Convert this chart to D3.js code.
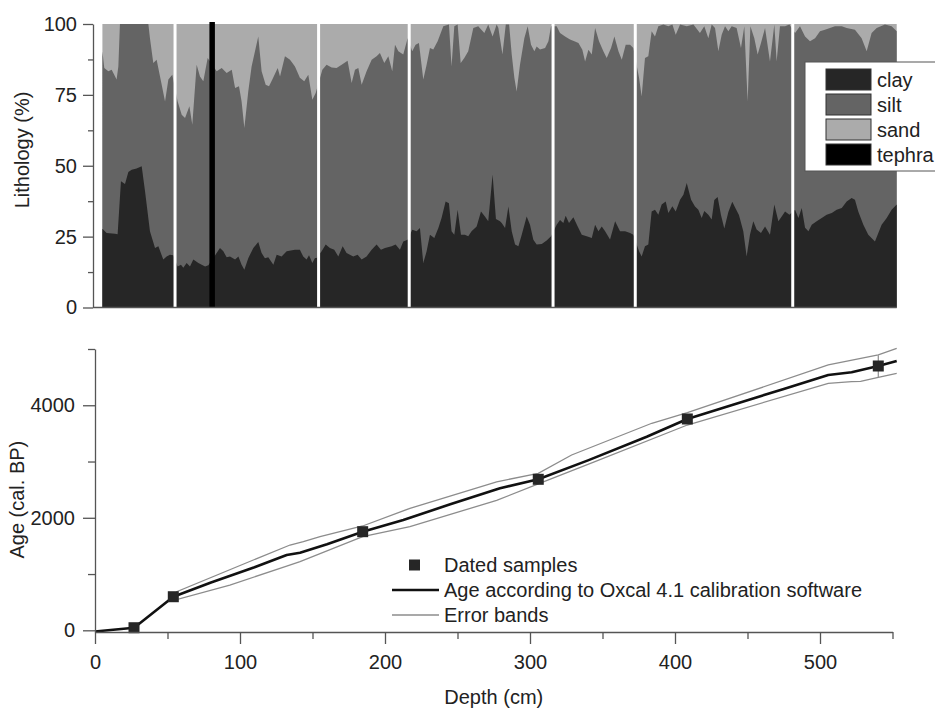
<!DOCTYPE html>
<html>
<head>
<meta charset="utf-8">
<script src="https://cdnjs.cloudflare.com/ajax/libs/d3/7.8.5/d3.min.js"></script>
<style>
  body { margin: 0; background: #fff; }
  svg text { font-family: "Liberation Sans", Arial, sans-serif; fill: #222; }
</style>
</head>
<body>
<div id="chart"></div>
<script>
// ---- lithology (top panel) ----
const clayDepth = [5.1, 8.0, 13.8, 15.6, 17.9, 20.7, 23.0, 25.3, 28.7, 32.2, 34.5, 37.9, 41.4, 43.7, 47.1, 49.4, 51.7, 54.0,
  57.0, 59.3, 60.9, 63.2, 65.5, 67.8, 71.3, 75.9, 78.2, 83.9, 86.2, 88.5, 90.8, 93.1, 96.6, 98.9, 101.1, 103.0, 105.7,
  109.2, 112.6, 114.9, 117.2, 119.5, 123.0, 125.3, 128.7, 132.2, 137.9, 141.3, 143.6, 145.9, 147.6, 149.9, 151.7, 152.8,
  156.3, 159.1, 162.0, 165.0, 167.8, 170.8, 173.5, 175.8, 178.1, 181.1, 183.9, 187.3, 190.8, 194.2, 197.2, 200.0, 204.6,
  207.3, 210.3, 212.6, 215.6, 218.8, 221.8, 224.1, 226.4, 228.7, 231.0, 234.0, 236.8, 239.0, 241.8, 244.1, 245.9, 247.8,
  250.1, 252.4, 255.1, 257.4, 259.7, 263.2, 266.2, 268.9, 271.2, 274.2, 276.5, 279.3, 280.5, 282.8, 285.1, 287.4, 289.7,
  292.0, 294.3, 297.7, 300.0, 302.3, 304.6, 308.1, 311.5, 314.5, 318.4, 320.7, 323.0, 324.6, 326.9, 329.9, 332.9, 335.7,
  339.1, 342.6, 344.9, 347.2, 349.5, 351.8, 355.2, 358.7, 362.1, 365.6, 369.0, 371.3, 375.2, 377.0, 379.3, 381.6, 383.9,
  386.2, 388.5, 390.8, 393.6, 395.4, 398.2, 400.5, 403.5, 405.8, 408.1, 411.1, 413.8, 416.1, 418.4, 420.2, 423.0, 425.3,
  427.1, 429.4, 431.7, 434.0, 436.8, 439.5, 441.8, 444.1, 447.1, 449.4, 451.7, 454.0, 456.3, 459.3, 462.1, 465.5, 468.5,
  471.3, 473.6, 475.9, 478.9, 482.8, 485.1, 487.4, 489.7, 492.0, 494.3, 497.7, 501.2, 504.6, 508.1, 511.5, 515.0, 518.4,
  521.8, 524.1, 526.4, 529.9, 533.3, 537.9, 542.5, 546.0, 549.4, 552.9];
const clayPct = [27.8, 26.3, 26.0, 25.8, 44.5, 43.6, 47.8, 48.6, 49.0, 49.8, 41.0, 26.9, 21.0, 21.6, 16.9, 18.0, 18.6, 18.4,
  14.5, 15.1, 14.0, 15.7, 14.5, 16.9, 15.7, 14.5, 14.9, 19.2, 21.0, 19.8, 17.7, 18.0, 16.9, 18.0, 15.1, 13.3, 17.4,
  21.0, 23.1, 19.2, 17.4, 17.7, 15.1, 18.6, 18.0, 19.8, 20.4, 20.4, 18.0, 16.9, 18.4, 15.7, 17.5, 17.5,
  19.8, 22.2, 21.0, 20.4, 18.0, 21.6, 19.2, 18.6, 18.0, 18.6, 16.9, 18.0, 20.4, 22.2, 20.4, 21.0, 21.6,
  22.2, 20.4, 23.3, 23.9, 27.4, 26.9, 28.0, 15.7, 19.8, 25.7, 24.5, 28.0, 31.6, 37.4, 36.8, 26.9, 25.7,
  34.5, 25.7, 25.7, 25.1, 26.9, 28.6, 33.9, 32.1, 30.4, 46.9, 31.2, 30.4, 29.8, 28.0, 35.6, 26.9, 22.2,
  21.6, 25.7, 32.1, 29.2, 23.9, 22.2, 22.4, 23.6, 25.1, 29.2, 30.9, 29.8, 32.4, 29.8, 31.8, 28.6, 25.7,
  25.1, 24.5, 29.2, 26.9, 28.6, 26.9, 24.0, 30.4, 26.9, 26.9, 26.3, 25.7, 19.8, 18.0, 21.6, 22.2, 33.9,
  34.5, 32.7, 36.3, 37.4, 33.3, 35.7, 33.9, 38.0, 39.8, 43.9, 38.0, 35.6, 34.5, 31.6, 34.0, 32.7, 31.0,
  37.9, 39.0, 32.6, 27.9, 33.7, 37.3, 34.9, 32.6, 26.9, 18.0, 25.7, 30.4, 27.5, 26.3, 28.6, 25.7, 36.3,
  30.4, 32.1, 33.9, 32.7, 34.5, 31.6, 35.1, 28.1, 26.9, 29.2, 30.4, 31.6, 32.7, 33.3, 34.5, 35.1, 37.4,
  38.6, 38.0, 33.9, 29.2, 25.7, 23.3, 29.2, 31.6, 34.5, 36.3];

// clay + silt (cumulative %), the rest up to 100 is sand
const siltTopDepth = [5.1, 6.4, 9.2, 11.5, 14.9, 16.1, 17.2, 36.8, 37.9, 40.2, 42.5, 46.0, 48.3, 50.6, 53.3,
  57.0, 59.8, 62.1, 65.1, 67.1, 70.1, 72.4, 74.7, 77.7, 83.9, 87.4, 90.8, 94.3, 96.6, 99.3, 101.1, 103.0, 105.7,
  108.0, 112.6, 114.9, 117.7, 120.0, 122.3, 126.0, 127.6, 131.0, 134.5, 137.9, 141.3, 144.3, 147.1, 149.9, 152.2,
  156.8, 159.7, 163.2, 166.6, 170.1, 174.2, 177.0, 179.3, 181.6, 183.9, 187.3, 190.8, 194.2, 196.5, 199.5, 202.3,
  205.0, 206.9, 209.2, 212.6, 215.6, 218.8, 221.1, 223.4, 226.4, 228.7, 231.0, 233.3, 236.3, 240.2, 244.1, 245.9,
  247.8, 250.1, 252.2, 254.7, 257.4, 260.9, 264.3, 268.5, 271.2, 274.2, 277.0, 278.2, 281.0, 283.3, 285.6, 287.4,
  289.2, 290.8, 293.1, 296.1, 298.4, 300.7, 303.0, 304.6, 306.9, 310.4, 312.7, 314.5, 318.4, 320.7, 324.2, 327.6,
  330.6, 333.4, 336.1, 338.0, 340.3, 342.6, 344.9, 347.6, 350.6, 352.9, 355.9, 358.2, 361.0, 363.3, 366.0, 369.0,
  371.3, 375.2, 377.0, 379.3, 381.6, 383.9, 386.2, 388.5, 392.0, 395.4, 398.2, 400.5, 403.5, 408.1, 412.7, 417.2,
  420.2, 423.0, 425.3, 427.6, 429.9, 432.2, 434.5, 436.8, 439.1, 442.5, 445.5, 447.8, 450.1, 452.0, 454.7, 457.0,
  459.3, 462.1, 465.5, 468.5, 470.1, 472.4, 475.9, 478.9, 482.8, 486.2, 489.7, 493.1, 496.6, 500.0, 503.4, 510.3,
  515.0, 518.4, 524.1, 528.7, 532.2, 535.6, 539.1, 544.8, 549.4, 552.9];
const siltTopPct = [90.4, 84.5, 83.3, 83.9, 80.4, 85.0, 100, 100, 95.0, 86.2, 87.4, 78.6, 72.7, 80.4, 82.1,
  72.7, 68.0, 66.8, 71.0, 64.5, 85.6, 81.5, 79.8, 88.0, 83.3, 84.5, 82.7, 83.9, 77.4, 78.0, 72.7, 63.3, 76.2,
  85.0, 95.6, 83.3, 78.6, 78.0, 80.4, 84.5, 81.5, 88.6, 87.4, 85.0, 81.0, 79.8, 82.1, 73.3, 75.7,
  83.9, 85.6, 84.7, 84.5, 85.6, 87.0, 79.2, 83.9, 84.5, 78.6, 83.3, 87.4, 88.6, 89.8, 86.2, 88.6,
  83.3, 92.7, 90.4, 89.2, 95.0, 90.4, 92.7, 93.3, 80.4, 85.6, 91.5, 91.0, 93.9, 99.2, 99.8, 85.0,
  99.2, 99.8, 86.2, 88.0, 90.4, 98.6, 99.2, 96.8, 99.8, 95.6, 99.8, 98.6, 89.2, 99.8, 99.8, 89.2,
  81.0, 76.2, 85.6, 95.0, 99.2, 92.7, 90.4, 92.1, 91.0, 91.5, 93.9, 99.2, 99.2, 96.8, 95.6, 94.5,
  93.9, 93.3, 90.9, 86.8, 90.9, 89.2, 98.6, 93.9, 90.4, 88.0, 91.5, 95.6, 90.4, 87.4, 92.7, 92.7,
  91.5, 81.0, 74.4, 88.0, 88.6, 97.4, 95.6, 99.2, 99.8, 99.2, 99.8, 96.2, 99.8, 99.2, 99.8, 96.8,
  99.2, 95.0, 99.8, 98.6, 90.4, 96.2, 99.2, 97.4, 99.2, 98.6, 91.5, 99.2, 72.7, 99.2, 95.0, 89.2,
  93.3, 98.6, 86.8, 99.8, 86.8, 99.2, 99.2, 99.8, 96.8, 99.2, 95.6, 93.9, 95.0, 97.4, 98.0, 99.2,
  99.2, 98.6, 98.0, 95.0, 90.4, 96.8, 98.6, 99.8, 99.2, 97.4];

const sectionBreaks = [55.2, 154.2, 216.7, 315.9, 372.6, 481.2];
const tephraDepth = [80.8];

const lithoTicks = [0, 25, 50, 75, 100];
const lithoMinor = [12.5, 37.5, 62.5, 87.5];
const lithoLegend = ["clay", "silt", "sand", "tephra"];

// ---- age-depth model (bottom panel) ----
const ageDepth = [0, 27, 54, 80, 110, 132.2, 141.4, 160, 184.6, 212.6, 245, 279.3, 305.7, 340, 380.5, 408.5,
  440, 475, 505.7, 521.8, 540.2, 552.9];
const ageModel = [-20, 46, 597, 850, 1120, 1339, 1380, 1530, 1753, 1961, 2240, 2524, 2684, 3020, 3441, 3756,
  4010, 4290, 4538, 4586, 4698, 4787];
const upperDepth = [54, 56.3, 109.2, 134.5, 143.7, 155.2, 184.6, 217.2, 277, 305.7, 328.7, 384, 408.5, 505.7, 540.2, 552.9];
const upperAge = [600, 687, 1250, 1516, 1575, 1664, 1854, 2169, 2640, 2791, 3116, 3680, 3868, 4716, 4894, 5012];
const lowerDepth = [54, 56.3, 93, 132.2, 141.4, 184.6, 217.2, 277, 305.7, 344.8, 408.5, 505.7, 521.8, 528, 540.2, 552.9];
const lowerAge = [597, 545, 805, 1140, 1220, 1664, 1842, 2310, 2601, 2997, 3649, 4390, 4419, 4425, 4497, 4568];

const sampleDepth = [26.9, 54.0, 184.6, 305.7, 408.5, 540.2];
const sampleAge = [46, 597, 1753, 2684, 3756, 4698];
const sampleLow = [20, 560, 1700, 2630, 3700, 4500];
const sampleHigh = [70, 640, 1800, 2740, 3810, 4890];

const depthTicks = [0, 100, 200, 300, 400, 500];
const depthMinor = [50, 150, 250, 350, 450, 550];
const ageTicks = [0, 2000, 4000];
const ageMinor = [1000, 3000, 5000];
const ageLegend = ["Dated samples", "Age according to Oxcal 4.1 calibration software", "Error bands"];

// ---- setup ----
const w = 935;
const h = 709;
const colors = { clay: "#262626", silt: "#646464", sand: "#ababab", tephra: "#000000" };
const axisColor = "#555";

const svg = d3.select("#chart").append("svg").attr("width", w).attr("height", h);

const x = d3.scaleLinear().domain([0, 550]).range([95, 892.5]);
const yLith = d3.scaleLinear().domain([0, 100]).range([307.5, 24]);
const yAge = d3.scaleLinear().domain([-30, 5000]).range([632, 349]);

function styleAxis(g) {
  g.attr("font-size", 20).attr("font-family", "Liberation Sans, Arial, sans-serif");
  g.selectAll("path, line").attr("stroke", axisColor).attr("stroke-width", 1.3);
  g.selectAll("text").attr("fill", "#222");
}

// ---- top panel ----
const lith = svg.append("g");
const dMin = d3.min(clayDepth), dMax = d3.max(clayDepth);

// sand fills everything above clay + silt
lith.append("rect")
  .attr("x", x(dMin))
  .attr("width", x(dMax) - x(dMin))
  .attr("y", yLith(100))
  .attr("height", yLith(0) - yLith(100))
  .attr("fill", colors.sand);

const area = d3.area().x(d => x(d[0])).y0(yLith(0)).y1(d => yLith(d[1]));

lith.append("path")
  .datum(d3.zip(siltTopDepth, siltTopPct))
  .attr("d", area)
  .attr("fill", colors.silt);

lith.append("path")
  .datum(d3.zip(clayDepth, clayPct))
  .attr("d", area)
  .attr("fill", colors.clay);

// core section breaks
lith.selectAll("line.break")
  .data(sectionBreaks)
  .join("line")
  .attr("class", "break")
  .attr("x1", d => x(d)).attr("x2", d => x(d))
  .attr("y1", yLith(0)).attr("y2", yLith(100))
  .attr("stroke", "#fff")
  .attr("stroke-width", 3);

lith.selectAll("line.tephra")
  .data(tephraDepth)
  .join("line")
  .attr("class", "tephra")
  .attr("x1", d => x(d)).attr("x2", d => x(d))
  .attr("y1", yLith(0)).attr("y2", yLith(100) - 2)
  .attr("stroke", colors.tephra)
  .attr("stroke-width", 5.5);

// axes
svg.append("g")
  .attr("transform", "translate(93,0)")
  .call(d3.axisLeft(yLith).tickValues(lithoTicks).tickSize(10).tickPadding(6).tickSizeOuter(0))
  .call(styleAxis);
svg.append("g")
  .attr("transform", "translate(93,0)")
  .call(d3.axisLeft(yLith).tickValues(lithoMinor).tickSize(5).tickFormat("").tickSizeOuter(0))
  .call(styleAxis)
  .call(g => g.select(".domain").remove());

svg.append("line")
  .attr("x1", 93).attr("x2", x(dMax))
  .attr("y1", yLith(0)).attr("y2", yLith(0))
  .attr("stroke", axisColor).attr("stroke-width", 1.3);

svg.append("text")
  .attr("transform", "translate(29,150) rotate(-90)")
  .attr("text-anchor", "middle")
  .attr("font-size", 20)
  .text("Lithology (%)");

// lithology legend
const lithLeg = svg.append("g").attr("transform", "translate(805,62)");
lithLeg.append("rect")
  .attr("width", 140).attr("height", 109)
  .attr("fill", "#fff").attr("stroke", axisColor).attr("stroke-width", 1);
const lItems = lithLeg.selectAll("g.item")
  .data(lithoLegend)
  .join("g")
  .attr("class", "item")
  .attr("transform", (d, i) => `translate(21,${7 + i * 25})`);
lItems.append("rect")
  .attr("width", 45).attr("height", 21)
  .attr("fill", d => colors[d])
  .attr("stroke", "#333").attr("stroke-width", 1);
lItems.append("text")
  .attr("x", 51).attr("y", 17.5)
  .attr("font-size", 20)
  .text(d => d);

// ---- bottom panel ----
const ageLine = d3.line().x(d => x(d[0])).y(d => yAge(d[1]));

svg.append("path")
  .datum(d3.zip(upperDepth, upperAge))
  .attr("d", ageLine)
  .attr("fill", "none").attr("stroke", "#8c8c8c").attr("stroke-width", 1.3);
svg.append("path")
  .datum(d3.zip(lowerDepth, lowerAge))
  .attr("d", ageLine)
  .attr("fill", "none").attr("stroke", "#8c8c8c").attr("stroke-width", 1.3);

svg.selectAll("line.err")
  .data(d3.zip(sampleDepth, sampleLow, sampleHigh))
  .join("line")
  .attr("class", "err")
  .attr("x1", d => x(d[0])).attr("x2", d => x(d[0]))
  .attr("y1", d => yAge(d[1])).attr("y2", d => yAge(d[2]))
  .attr("stroke", "#8c8c8c").attr("stroke-width", 1.2);

svg.append("path")
  .datum(d3.zip(ageDepth, ageModel))
  .attr("d", ageLine)
  .attr("fill", "none").attr("stroke", "#111").attr("stroke-width", 2.6)
  .attr("stroke-linejoin", "round");

svg.selectAll("rect.sample")
  .data(d3.zip(sampleDepth, sampleAge))
  .join("rect")
  .attr("class", "sample")
  .attr("x", d => x(d[0]) - 5.5).attr("y", d => yAge(d[1]) - 5.5)
  .attr("width", 11).attr("height", 11)
  .attr("fill", "#262626");

svg.append("g")
  .attr("transform", `translate(${x(0)},0)`)
  .call(d3.axisLeft(yAge).tickValues(ageTicks).tickSize(12).tickPadding(8).tickFormat(d3.format("d")).tickSizeOuter(0))
  .call(styleAxis);
svg.append("g")
  .attr("transform", `translate(${x(0)},0)`)
  .call(d3.axisLeft(yAge).tickValues(ageMinor).tickSize(7).tickFormat("").tickSizeOuter(0))
  .call(styleAxis)
  .call(g => g.select(".domain").remove());

svg.append("g")
  .attr("transform", `translate(0,${yAge.range()[0]})`)
  .call(d3.axisBottom(x).tickValues(depthTicks).tickSize(12).tickPadding(11).tickSizeOuter(0))
  .call(styleAxis);
svg.append("g")
  .attr("transform", `translate(0,${yAge.range()[0]})`)
  .call(d3.axisBottom(x).tickValues(depthMinor).tickSize(7).tickFormat("").tickSizeOuter(0))
  .call(styleAxis)
  .call(g => g.select(".domain").remove());

svg.append("text")
  .attr("transform", `translate(24,${(yAge(0) + yAge(5000)) / 2 + 10}) rotate(-90)`)
  .attr("text-anchor", "middle")
  .attr("font-size", 20)
  .text("Age (cal. BP)");

svg.append("text")
  .attr("x", (x(0) + x(550)) / 2)
  .attr("y", 704)
  .attr("text-anchor", "middle")
  .attr("font-size", 20)
  .text("Depth (cm)");

// age legend
const ageLeg = svg.append("g").attr("transform", "translate(392,565)");
ageLeg.append("rect")
  .attr("x", 17).attr("y", -5.5).attr("width", 11).attr("height", 11)
  .attr("fill", "#262626");
ageLeg.append("line")
  .attr("x1", 0).attr("x2", 47).attr("y1", 25).attr("y2", 25)
  .attr("stroke", "#111").attr("stroke-width", 2.6);
ageLeg.append("line")
  .attr("x1", 0).attr("x2", 47).attr("y1", 50).attr("y2", 50)
  .attr("stroke", "#8c8c8c").attr("stroke-width", 1.3);
ageLeg.selectAll("text")
  .data(ageLegend)
  .join("text")
  .attr("x", 52)
  .attr("y", (d, i) => i * 25 + 7)
  .attr("font-size", 20)
  .text(d => d);
</script>
</body>
</html>
